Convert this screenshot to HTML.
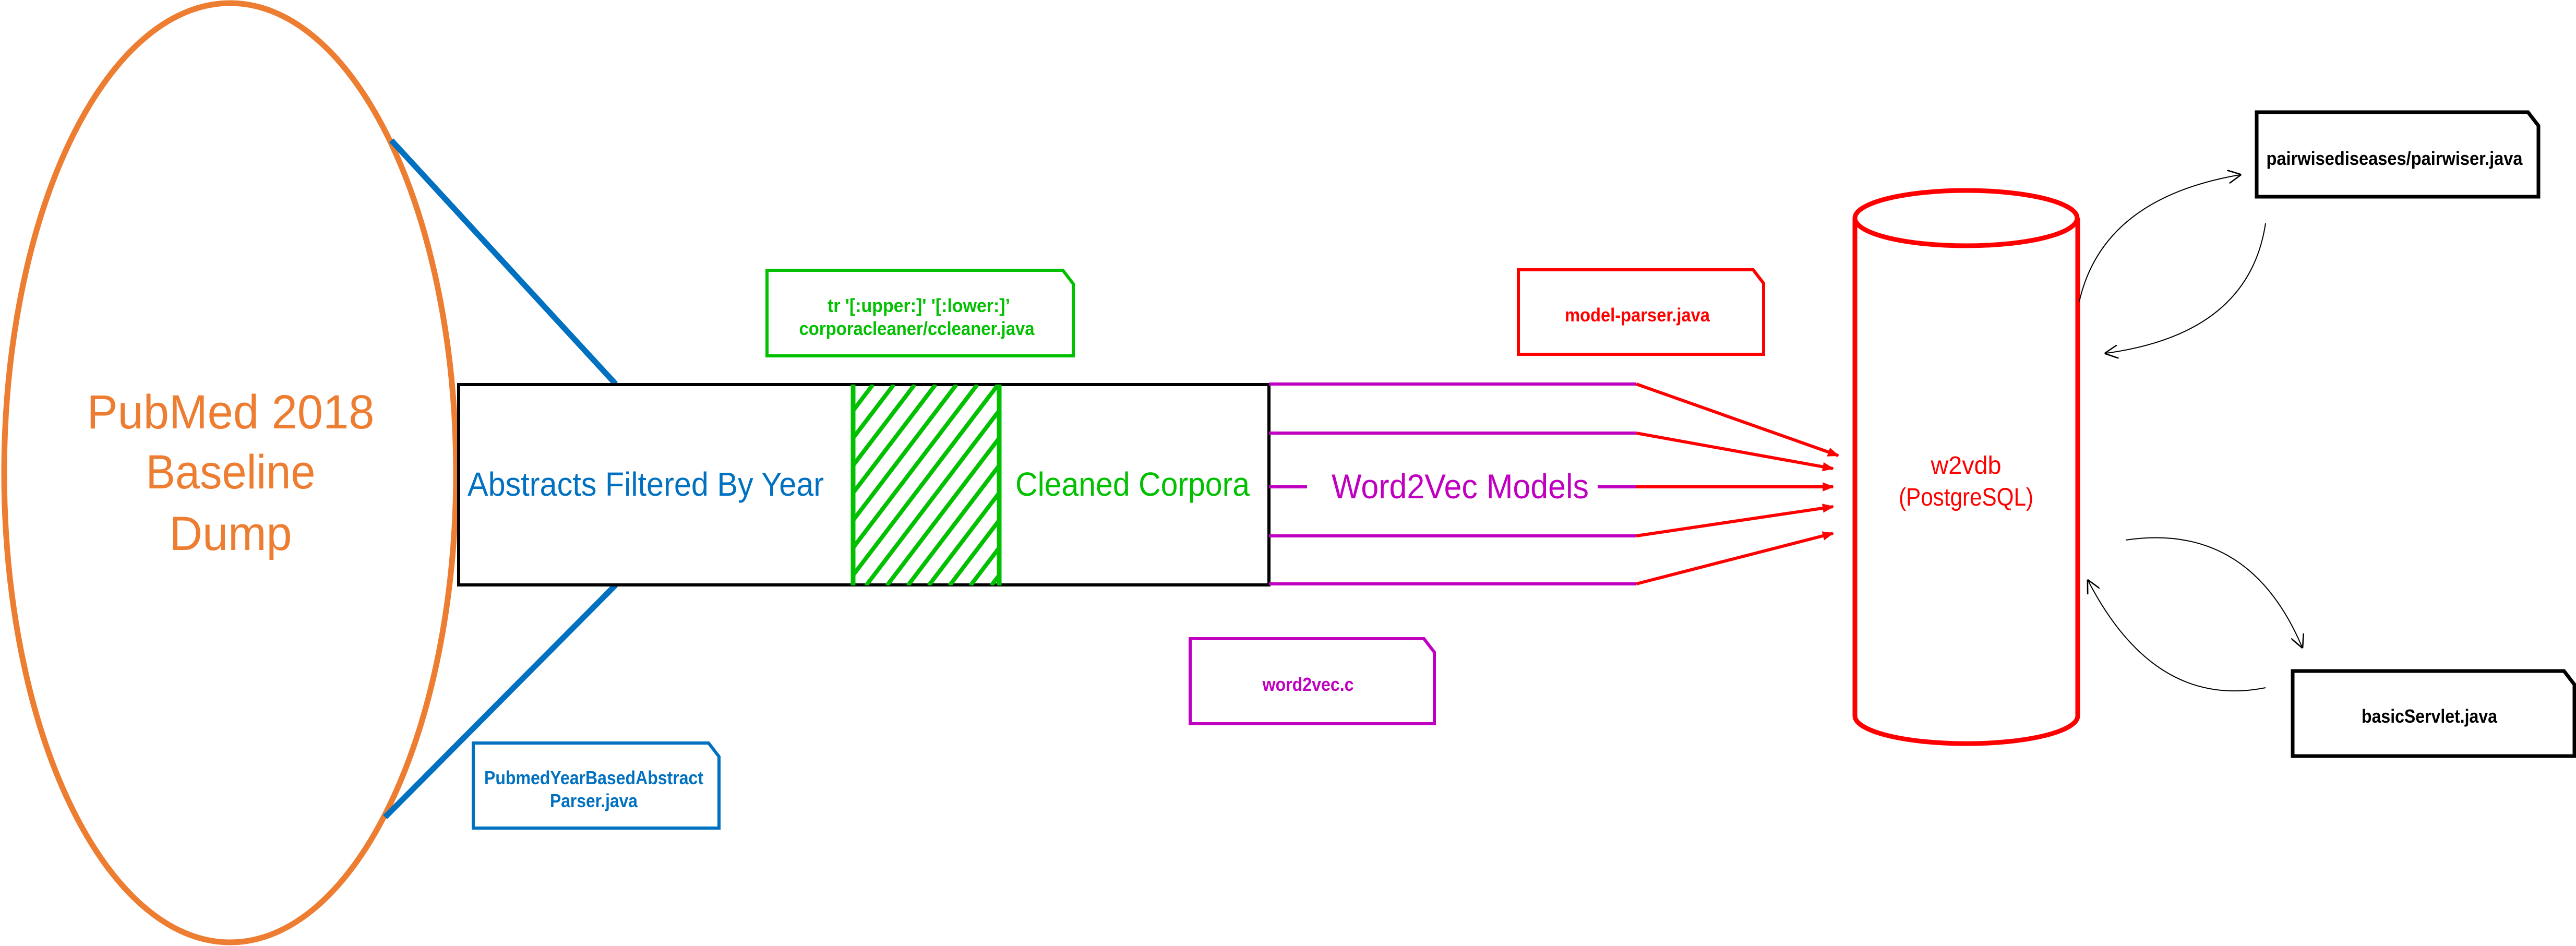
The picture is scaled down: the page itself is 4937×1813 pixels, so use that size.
<!DOCTYPE html>
<html><head><meta charset="utf-8"><style>html,body{margin:0;padding:0;background:#fff}svg{display:block}</style></head>
<body>
<svg width="4937" height="1813" viewBox="0 0 4937 1813" xmlns="http://www.w3.org/2000/svg" font-family="Liberation Sans, sans-serif">
<defs>
<clipPath id="hc"><rect x="1634" y="737" width="281" height="385"/></clipPath>
<marker id="ar" viewBox="0 0 10 10" refX="9" refY="5" markerWidth="28" markerHeight="22" orient="auto" markerUnits="userSpaceOnUse"><path d="M0,1 L10,5 L0,9 z" fill="#f00"/></marker>
<marker id="ak" viewBox="0 0 10 10" refX="9" refY="5" markerWidth="26" markerHeight="26" orient="auto" markerUnits="userSpaceOnUse"><path d="M0,0 L10,5 L0,10" fill="none" stroke="#000" stroke-width="1"/></marker>
</defs>
<ellipse cx="441" cy="906" rx="433" ry="900" fill="none" stroke="#ed7d31" stroke-width="11"/>
<g fill="#ed7d31" font-size="92" text-anchor="middle">
<text x="442" y="821" textLength="551" lengthAdjust="spacingAndGlyphs">PubMed 2018</text>
<text x="442" y="936" textLength="325" lengthAdjust="spacingAndGlyphs">Baseline</text>
<text x="442" y="1054" textLength="235" lengthAdjust="spacingAndGlyphs">Dump</text>
</g>
<line x1="750" y1="269" x2="1180" y2="736" stroke="#0070c0" stroke-width="11"/>
<line x1="1180" y1="1121" x2="738" y2="1566" stroke="#0070c0" stroke-width="11"/>
<rect x="879" y="737" width="1553" height="384" fill="#fff" stroke="#000" stroke-width="6"/>
<g clip-path="url(#hc)" stroke="#00c000" stroke-width="8">
<line x1="1300" y1="1122" x2="1593" y2="737"/><line x1="1340" y1="1122" x2="1633" y2="737"/><line x1="1380" y1="1122" x2="1673" y2="737"/><line x1="1420" y1="1122" x2="1713" y2="737"/><line x1="1460" y1="1122" x2="1753" y2="737"/><line x1="1500" y1="1122" x2="1793" y2="737"/><line x1="1540" y1="1122" x2="1833" y2="737"/><line x1="1580" y1="1122" x2="1873" y2="737"/><line x1="1620" y1="1122" x2="1913" y2="737"/><line x1="1660" y1="1122" x2="1953" y2="737"/><line x1="1700" y1="1122" x2="1993" y2="737"/><line x1="1740" y1="1122" x2="2033" y2="737"/><line x1="1780" y1="1122" x2="2073" y2="737"/><line x1="1820" y1="1122" x2="2113" y2="737"/><line x1="1860" y1="1122" x2="2153" y2="737"/><line x1="1900" y1="1122" x2="2193" y2="737"/>
</g>
<line x1="1635" y1="737" x2="1635" y2="1122" stroke="#00c000" stroke-width="9"/>
<line x1="1915" y1="737" x2="1915" y2="1122" stroke="#00c000" stroke-width="9"/>
<text x="896" y="950" font-size="64" fill="#0070c0" textLength="683" lengthAdjust="spacingAndGlyphs">Abstracts Filtered By Year</text>
<text x="1946" y="950" font-size="64" fill="#00c000" textLength="449" lengthAdjust="spacingAndGlyphs">Cleaned Corpora</text>
<path d="M1470,518 L2037,518 L2057,544 L2057,682 L1470,682 Z" fill="#fff" stroke="#00c000" stroke-width="6"/>
<g fill="#00c000" font-size="36" font-weight="bold" text-anchor="middle">
<text x="1761" y="598" textLength="350" lengthAdjust="spacingAndGlyphs">tr '[:upper:]' '[:lower:]’</text>
<text x="1757" y="642" textLength="451" lengthAdjust="spacingAndGlyphs">corporacleaner/ccleaner.java</text>
</g>
<path d="M907,1424 L1358,1424 L1378,1450 L1378,1587 L907,1587 Z" fill="#fff" stroke="#0070c0" stroke-width="6"/>
<g fill="#0070c0" font-size="36" font-weight="bold" text-anchor="middle">
<text x="1138" y="1503" textLength="420" lengthAdjust="spacingAndGlyphs">PubmedYearBasedAbstract</text>
<text x="1138" y="1547" textLength="168" lengthAdjust="spacingAndGlyphs">Parser.java</text>
</g>
<path d="M2281,1224 L2729,1224 L2749,1250 L2749,1387 L2281,1387 Z" fill="#fff" stroke="#c000c0" stroke-width="6"/>
<text x="2507" y="1324" font-size="36" font-weight="bold" fill="#c000c0" text-anchor="middle" textLength="175" lengthAdjust="spacingAndGlyphs">word2vec.c</text>
<path d="M2910,517 L3360,517 L3380,543 L3380,679 L2910,679 Z" fill="#fff" stroke="#f00" stroke-width="6"/>
<text x="3138" y="616" font-size="36" font-weight="bold" fill="#f00" text-anchor="middle" textLength="278" lengthAdjust="spacingAndGlyphs">model-parser.java</text>
<g stroke="#c000c0" stroke-width="6">
<line x1="2432" y1="736" x2="3136" y2="736"/>
<line x1="2432" y1="830" x2="3136" y2="830"/>
<line x1="2432" y1="933" x2="2505" y2="933"/>
<line x1="3062" y1="933" x2="3136" y2="933"/>
<line x1="2432" y1="1027" x2="3136" y2="1027"/>
<line x1="2432" y1="1119" x2="3136" y2="1119"/>
</g>
<text x="2552" y="955" font-size="66" fill="#c000c0" textLength="493" lengthAdjust="spacingAndGlyphs">Word2Vec Models</text>
<g stroke="#f00" stroke-width="6" marker-end="url(#ar)">
<line x1="3136" y1="736" x2="3523" y2="873"/>
<line x1="3136" y1="830" x2="3513" y2="898"/>
<line x1="3136" y1="933" x2="3513" y2="933"/>
<line x1="3136" y1="1027" x2="3513" y2="971"/>
<line x1="3136" y1="1119" x2="3513" y2="1022"/>
</g>
<path d="M3555,418 L3555,1372 A213,53 0 0 0 3982,1372 L3982,418" fill="#fff" stroke="#f00" stroke-width="9"/>
<ellipse cx="3768" cy="418" rx="213" ry="53" fill="#fff" stroke="#f00" stroke-width="9"/>
<g fill="#f00" font-size="48" text-anchor="middle">
<text x="3768" y="908" textLength="135" lengthAdjust="spacingAndGlyphs">w2vdb</text>
<text x="3768" y="969" textLength="258" lengthAdjust="spacingAndGlyphs">(PostgreSQL)</text>
</g>
<path d="M4325,215 L4845,215 L4865,241 L4865,377 L4325,377 Z" fill="#fff" stroke="#000" stroke-width="7"/>
<text x="4589" y="316" font-size="36" font-weight="bold" fill="#000" text-anchor="middle" textLength="491" lengthAdjust="spacingAndGlyphs">pairwisediseases/pairwiser.java</text>
<path d="M4394,1286 L4914,1286 L4934,1312 L4934,1449 L4394,1449 Z" fill="#fff" stroke="#000" stroke-width="7"/>
<text x="4656" y="1385" font-size="36" font-weight="bold" fill="#000" text-anchor="middle" textLength="260" lengthAdjust="spacingAndGlyphs">basicServlet.java</text>
<g fill="none" stroke="#000" stroke-width="2" marker-end="url(#ak)">
<path d="M3985,578 Q4030,380 4293,335"/>
<path d="M4342,428 Q4310,640 4036,677"/>
<path d="M4074,1035 Q4310,1000 4412,1240"/>
<path d="M4342,1318 Q4130,1360 4002,1113"/>
</g>
</svg>
</body></html>
